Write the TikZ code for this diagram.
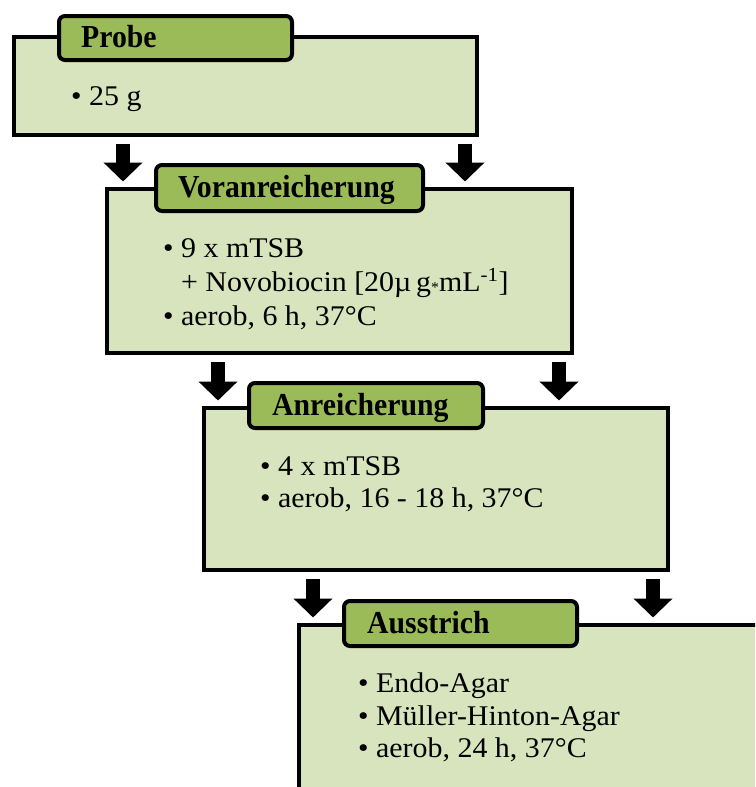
\documentclass[tikz,border=0pt]{standalone}
\usepackage{fontspec}
\setmainfont{Liberation Serif}[FakeStretch=1.05]
\newfontfamily\headfont{Liberation Serif Bold}[FakeStretch=0.93]
\usetikzlibrary{arrows.meta}
\definecolor{bodyfill}{HTML}{D7E4BD}
\definecolor{tabfill}{HTML}{9BBB59}
\begin{document}
\begin{tikzpicture}[x=1pt,y=-1pt,
  bodybox/.style={draw=black, line width=4pt, fill=bodyfill, inner sep=0pt, anchor=north west},
  tabbox/.style={draw=black, line width=4pt, fill=tabfill, rounded corners=6pt, inner sep=0pt, anchor=north west},
  headtext/.style={anchor=base west, inner sep=0pt, font=\headfont\fontsize{32}{36}\selectfont},
  bodytext/.style={anchor=base west, inner sep=0pt, font=\fontsize{28.5}{33}\selectfont},
  flowarrow/.style={line width=14pt, -{Triangle[width=38pt,length=19pt]}, shorten <=6.5pt, shorten >=5.5pt}
]
\useasboundingbox (0,0) rectangle (755,787);
\clip (0,0) rectangle (755,787);
\fill[white] (0,0) rectangle (755,787);

% boxes
\node[bodybox, minimum width=463pt, minimum height=98pt] (b1) at (12,35) {};
\node[tabbox, minimum width=233pt, minimum height=44pt] (t1) at (57,14) {};
\node[headtext] (h1) at ([xshift=24pt,yshift=-9.5pt]t1.west) {Probe};
\node[bodytext] (l11) at ([xshift=59pt,yshift=-70pt]b1.north west) {• 25 g};

\node[bodybox, minimum width=465pt, minimum height=164pt] (b2) at (105,187) {};
\node[tabbox, minimum width=267pt, minimum height=46pt] (t2) at (154,163) {};
\node[headtext] (h2) at ([xshift=24pt,yshift=-9.5pt]t2.west) {Voranreicherung};
\node[bodytext] (l21) at ([xshift=58pt,yshift=-70pt]b2.north west) {• 9 x mTSB};
\node[bodytext] (l22) at ([xshift=58pt,yshift=-104pt]b2.north west) {\hphantom{•\ }+ Novobiocin [20µ\,g{\raisebox{-0.15ex}{\fontsize{15}{15}\selectfont *}}mL\textsuperscript{-1}]};
\node[bodytext] (l23) at ([xshift=58pt,yshift=-138pt]b2.north west) {• aerob, 6 h, 37°C};

\node[bodybox, minimum width=464pt, minimum height=162pt] (b3) at (202,406) {};
\node[tabbox, minimum width=234pt, minimum height=45pt] (t3) at (247,381) {};
\node[headtext] (h3) at ([xshift=25pt,yshift=-9.5pt]t3.west) {Anreicherung};
\node[bodytext] (l31) at ([xshift=58pt,yshift=-69pt]b3.north west) {• 4 x mTSB};
\node[bodytext] (l32) at ([xshift=58pt,yshift=-101pt]b3.north west) {• aerob, 16 - 18 h, 37°C};

\node[bodybox, minimum width=479pt, minimum height=173pt] (b4) at (297,623) {};
\node[tabbox, minimum width=233pt, minimum height=45pt] (t4) at (342,599) {};
\node[headtext] (h4) at ([xshift=25pt,yshift=-9.5pt]t4.west) {Ausstrich};
\node[bodytext] (l41) at ([xshift=61pt,yshift=-69pt]b4.north west) {• Endo-Agar};
\node[bodytext] (l42) at ([xshift=61pt,yshift=-102pt]b4.north west) {• Müller-Hinton-Agar};
\node[bodytext] (l43) at ([xshift=61pt,yshift=-134pt]b4.north west) {• aerob, 24 h, 37°C};

% arrows
\coordinate (a1l) at ([xshift=18pt]b2.north west);
\coordinate (a1r) at ([xshift=-14pt]b1.south east);
\draw[flowarrow] (a1l |- b1.south) -- (a1l);
\draw[flowarrow] (a1r) -- (a1r |- b2.north);

\coordinate (a2l) at ([xshift=16pt]b3.north west);
\coordinate (a2r) at ([xshift=-15pt]b2.south east);
\draw[flowarrow] (a2l |- b2.south) -- (a2l);
\draw[flowarrow] (a2r) -- (a2r |- b3.north);

\coordinate (a3l) at ([xshift=16pt]b4.north west);
\coordinate (a3r) at ([xshift=-17pt]b3.south east);
\draw[flowarrow] (a3l |- b3.south) -- (a3l);
\draw[flowarrow] (a3r) -- (a3r |- b4.north);
\end{tikzpicture}
\end{document}
